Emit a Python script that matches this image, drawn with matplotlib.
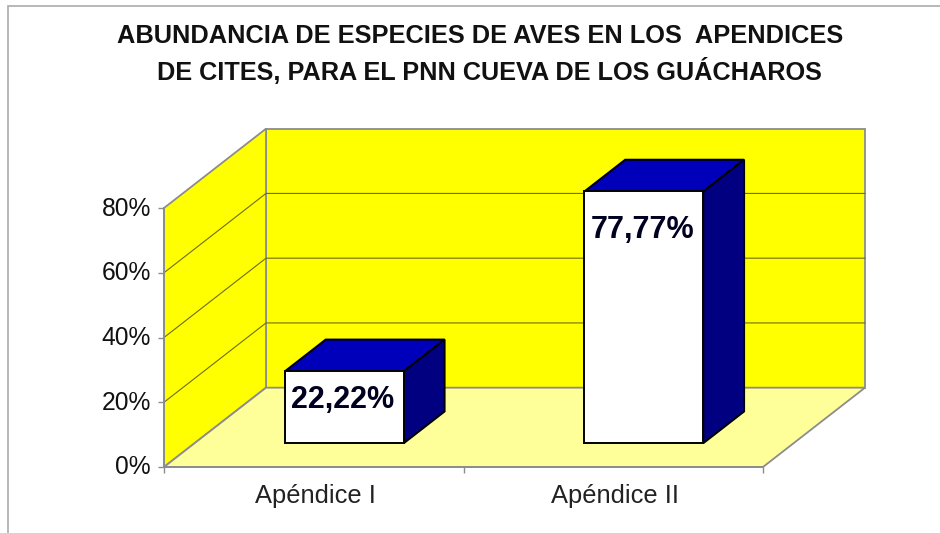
#!/usr/bin/env python3

import matplotlib

matplotlib.use("Agg")
import matplotlib.pyplot as plt
from matplotlib.patches import Polygon, Rectangle
from matplotlib.transforms import offset_copy

plt.rcParams["font.family"] = ["Liberation Sans", "DejaVu Sans"]

# Data
categories = ["Apéndice I", "Apéndice II"]
values = [22.22, 77.77]
value_labels = ["22,22%", "77,77%"]
yticks = [0, 20, 40, 60, 80]
title_lines = [
    "ABUNDANCIA DE ESPECIES DE AVES EN LOS  APENDICES",
    "DE CITES, PARA EL PNN CUEVA DE LOS GUÁCHAROS",
]

# Colours
wall = "#FFFF00"
floor = "#FFFF99"
edge = "#8C8C8C"
grid = "#6E6E14"
bar_front = "#FFFFFF"
bar_top = "#0000BB"
bar_side = "#000080"

# Oblique depth: what one full unit of depth adds in data units
depth_x = 0.3406
depth_y = 24.5
bar_width = 0.397
bar_d0 = 0.3
bar_d1 = 0.7


def proj(x, y, d):
    return (x + d * depth_x, y + d * depth_y)


W, H = 940, 533
fig = plt.figure(figsize=(W / 100, H / 100), dpi=100, facecolor="white")
ax = fig.add_axes([164 / W, (H - 467) / H, 599 / W, 259 / H])
ax.set_xlim(0, 2)
ax.set_ylim(0, 80)
ax.patch.set_visible(False)

# Outer chart frame
fig.add_artist(
    Rectangle(
        (8 / W, -0.05),
        1.1,
        1.05 - 6 / H,
        transform=fig.transFigure,
        fc="none",
        ec="#ABABAB",
        lw=1.2,
    )
)

# Walls and floor
ymax = yticks[-1]
ax.add_patch(
    Polygon(
        [proj(0, 0, 1), proj(2, 0, 1), proj(2, ymax, 1), proj(0, ymax, 1)],
        fc=wall, ec=edge, lw=1.3, clip_on=False, zorder=1,
    )
)
ax.add_patch(
    Polygon(
        [proj(0, 0, 0), proj(0, 0, 1), proj(0, ymax, 1), proj(0, ymax, 0)],
        fc=wall, ec=edge, lw=1.3, clip_on=False, zorder=1,
    )
)
ax.add_patch(
    Polygon(
        [proj(0, 0, 0), proj(2, 0, 0), proj(2, 0, 1), proj(0, 0, 1)],
        fc=floor, ec=edge, lw=1.3, clip_on=False, zorder=1,
    )
)

# Gridlines, along the side wall and then the back wall
for v in yticks[1:-1]:
    pts = [proj(0, v, 0), proj(0, v, 1), proj(2, v, 1)]
    ax.plot(*zip(*pts), color=grid, lw=0.8, clip_on=False, zorder=2)

# Label offsets from the bar's top front centre, in pixels
label_dx = [-2, -1]
label_dy = [-29, -39]

# Bars
for i, v in enumerate(values):
    x0 = i + 0.5 - bar_width / 2
    x1 = i + 0.5 + bar_width / 2
    faces = [
        ([proj(x0, v, bar_d0), proj(x1, v, bar_d0), proj(x1, v, bar_d1), proj(x0, v, bar_d1)], bar_top),
        ([proj(x1, 0, bar_d0), proj(x1, 0, bar_d1), proj(x1, v, bar_d1), proj(x1, v, bar_d0)], bar_side),
        ([proj(x0, 0, bar_d0), proj(x1, 0, bar_d0), proj(x1, v, bar_d0), proj(x0, v, bar_d0)], bar_front),
    ]
    for pts, c in faces:
        ax.add_patch(
            Polygon(pts, fc=c, ec="black", lw=1.4, joinstyle="miter", clip_on=False, zorder=3)
        )
    ax.annotate(
        value_labels[i],
        proj(i + 0.5, v, bar_d0),
        xytext=(label_dx[i], label_dy[i]),
        textcoords="offset pixels",
        annotation_clip=False,
        ha="center",
        va="center",
        fontsize=22,
        fontweight="bold",
        color="#000020",
        zorder=4,
    )

# Axes
for s in ["top", "right"]:
    ax.spines[s].set_visible(False)
for s in ["left", "bottom"]:
    ax.spines[s].set_color(edge)
    ax.spines[s].set_linewidth(1.3)
    ax.spines[s].set_zorder(2)

ax.set_yticks(yticks)
ax.set_yticklabels([f"{v}%" for v in yticks])
ax.tick_params(axis="y", length=4.5, width=1.0, color=edge, labelsize=17.7, pad=5, labelcolor="#111111")
for lab in ax.get_yticklabels():
    lab.set_transform(offset_copy(lab.get_transform(), fig=fig, y=2, units="dots"))
ax.set_xticks([0, 1, 2])
ax.set_xticklabels([])
ax.tick_params(axis="x", length=4.5, width=1.0, color=edge)
ax.set_xticks([0.5, 1.5], minor=True)
ax.set_xticklabels(categories, minor=True)
ax.tick_params(axis="x", which="minor", length=0, labelsize=18.4, pad=12, labelcolor="#222222")
for lab in ax.get_xticklabels(minor=True):
    lab.set_transform(offset_copy(lab.get_transform(), fig=fig, x=1.5, units="dots"))

fig.text(480.5 / W, 1 - 36 / H, title_lines[0], ha="center", va="center", fontsize=18.3, fontweight="bold", color="#111111")
fig.text(489 / W, 1 - 71 / H, title_lines[1], ha="center", va="center", fontsize=18.2, fontweight="bold", color="#111111")

fig.savefig("out.png", dpi=100)
